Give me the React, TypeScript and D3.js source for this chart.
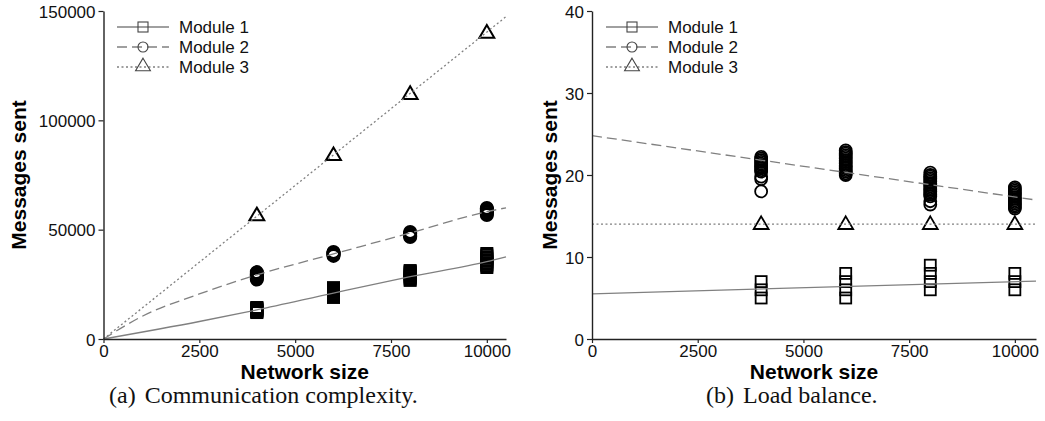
import React, { useEffect, useRef } from "react";
import * as d3 from "d3";

// network sizes where the runs were measured
const sizes = [4000, 6000, 8000, 10000];

// (a) communication complexity: every run, per network size
const commModule1 = [
  [12100, 12400, 12700, 13000, 13300, 13600, 13900, 14200, 14400],
  [19000, 19600, 20200, 20800, 21400, 22000, 22600, 23100, 23500],
  [26800, 27400, 28000, 28600, 29200, 29800, 30400, 30900, 31300],
  [32700, 33400, 34100, 34800, 35500, 36200, 36900, 37600, 38400, 39100]
];
const commModule2 = [
  [27200, 27700, 28200, 28700, 29200, 29700, 30200, 30600],
  [38000, 38400, 38800, 39200, 39500, 39800],
  [46600, 47100, 47600, 48100, 48500, 48900],
  [56700, 57200, 57700, 58200, 58700, 59200, 59600, 59900]
];
const commModule3 = [[56500], [84000], [112000], [140000]];

// fitted curves
const commFit1X = [0, 2500, 4000, 6000, 8000, 10000, 10500];
const commFit1Y = [0, 8000, 13300, 21000, 28500, 35400, 37600];
const commFit2X = [0, 1000, 2500, 4000, 6000, 8000, 10000, 10500];
const commFit2Y = [0, 10300, 20600, 29300, 38900, 48500, 58200, 60000];
const commFit3X = [0, 10500];
const commFit3Y = [0, 147400];

// (b) load balance: messages sent per node
const loadModule1 = [
  [5, 6, 7],
  [5, 6, 7, 8],
  [6, 7, 8, 9],
  [6, 7, 8]
];
const loadModule2 = [
  [18.0, 19.5, 19.8, 20.4, 20.6, 20.8, 21.0, 21.2, 21.4, 21.6, 21.8, 22.0, 22.2],
  [20.0, 20.2, 20.4, 20.6, 20.8, 21.0, 21.2, 21.4, 21.6, 21.8, 22.0, 22.2, 22.4, 22.6, 22.8, 23.0],
  [16.4, 16.8, 17.4, 17.6, 17.8, 18.0, 18.2, 18.4, 18.6, 18.8, 19.0, 19.2, 19.4, 19.6, 19.8, 20.0, 20.3],
  [15.9, 16.1, 16.3, 16.5, 16.7, 16.9, 17.1, 17.3, 17.5, 17.7, 17.9, 18.1, 18.3, 18.5]
];
const loadModule3 = [[14], [14], [14], [14]];

const loadFit1X = [0, 10500];
const loadFit1Y = [5.5, 7.07];
const loadFit2X = [0, 10500];
const loadFit2Y = [24.8, 16.95];
const loadFit3X = [0, 10500];
const loadFit3Y = [14, 14];

const xTicks = [0, 2500, 5000, 7500, 10000];
const commYTicks = [0, 50000, 100000, 150000];
const loadYTicks = [0, 10, 20, 30, 40];

const legendNames = ["Module 1", "Module 2", "Module 3"];

const sans = "'Liberation Sans', Arial, Helvetica, sans-serif";
const serif = "'Liberation Serif', 'Times New Roman', serif";
const lineColor = "#808080";
const dashes = [null, "10,5", "2,2.5"];

const triPath = (w) => {
  const h = w * 0.85;
  return `M0,${-h * 0.62}L${w / 2},${h * 0.38}L${-w / 2},${h * 0.38}Z`;
};

const drawMarker = (g, kind, x, y, size, stroke, sw) => {
  if (kind === 0) {
    g.append("rect")
      .attr("x", x - size / 2)
      .attr("y", y - size / 2)
      .attr("width", size)
      .attr("height", size)
      .attr("fill", "none")
      .attr("stroke", stroke)
      .attr("stroke-width", sw);
  } else if (kind === 1) {
    g.append("circle")
      .attr("cx", x)
      .attr("cy", y)
      .attr("r", size / 2)
      .attr("fill", "none")
      .attr("stroke", stroke)
      .attr("stroke-width", sw);
  } else {
    g.append("path")
      .attr("transform", `translate(${x},${y})`)
      .attr("d", triPath(size * 1.35))
      .attr("fill", "none")
      .attr("stroke", stroke)
      .attr("stroke-width", sw)
      .attr("stroke-linejoin", "miter");
  }
};

const drawPanel = (svg, opts) => {
  const { left, right, top, bottom, yMax, yTicks, runs, fits, legendX, caption, captionX, markerSw, titleX } = opts;

  let x = d3.scaleLinear().domain([0, 10500]).range([left, right]);
  let y = d3.scaleLinear().domain([0, yMax]).range([bottom, top]);

  const g = svg.append("g");

  // markers
  runs.forEach((series, k) => {
    series.forEach((vals, i) => {
      vals.forEach(v => {
        drawMarker(g, k, x(sizes[i]), y(v), k === 1 ? 12 : 11, "#000", markerSw);
      });
    });
  });

  // fitted lines on top of the markers
  const line = d3
    .line()
    .curve(d3.curveMonotoneX)
    .x(d => x(d[0]))
    .y(d => y(d[1]));

  fits.forEach((f, k) => {
    const pts = f[0].map((v, i) => [v, f[1][i]]);
    g.append("path")
      .attr("d", line(pts))
      .attr("fill", "none")
      .attr("stroke", lineColor)
      .attr("stroke-width", 1.3)
      .attr("stroke-dasharray", dashes[k]);
  });

  // axes
  const fmt = d3.format("d");
  const xAxis = d3.axisBottom(x).tickValues(xTicks).tickFormat(fmt).tickSize(4).tickSizeOuter(0).tickPadding(2);
  const yAxis = d3.axisLeft(y).tickValues(yTicks).tickFormat(fmt).tickSize(5).tickSizeOuter(0).tickPadding(3);

  const gx = g.append("g").attr("transform", `translate(0,${bottom})`).call(xAxis);
  const gy = g.append("g").attr("transform", `translate(${left},0)`).call(yAxis);
  [gx, gy].forEach(a => {
    a.select(".domain").attr("stroke", "#222").attr("stroke-width", 1.4);
    a.selectAll(".tick line").attr("stroke", "#222").attr("stroke-width", 1.2);
    a.selectAll("text").attr("font-family", sans).attr("font-size", 17).attr("fill", "#111");
  });
  gy.selectAll("text").attr("dy", "0.36em");

  g.append("text")
    .attr("x", (left + right) / 2)
    .attr("y", 379)
    .attr("text-anchor", "middle")
    .attr("font-family", sans)
    .attr("font-weight", "bold")
    .attr("font-size", 21)
    .text("Network size");

  g.append("text")
    .attr("transform", `translate(${titleX},${(top + bottom) / 2}) rotate(-90)`)
    .attr("text-anchor", "middle")
    .attr("font-family", sans)
    .attr("font-weight", "bold")
    .attr("font-size", 21)
    .text("Messages sent");

  // legend
  legendNames.forEach((name, k) => {
    const ly = 27 + k * 20;
    g.append("line")
      .attr("x1", legendX)
      .attr("x2", legendX + 52)
      .attr("y1", ly)
      .attr("y2", ly)
      .attr("stroke", lineColor)
      .attr("stroke-width", 1.3)
      .attr("stroke-dasharray", dashes[k]);
    drawMarker(g, k, legendX + 26, ly + (k === 2 ? -1 : 0), k === 2 ? 11 : 10, "#444", 1.1);
    g.append("text")
      .attr("x", legendX + 62)
      .attr("y", ly + 6)
      .attr("font-family", sans)
      .attr("font-size", 17)
      .attr("fill", "#111")
      .text(name);
  });

  // caption
  const cap = g.append("text")
    .attr("x", captionX)
    .attr("y", 403)
    .attr("font-family", serif)
    .attr("font-size", 24)
    .attr("fill", "#111");
  cap.append("tspan").text(caption[0]);
  cap.append("tspan").attr("dx", 9).text(caption[1]);
};

const App = () => {
  let ref = useRef(null);

  useEffect(() => {
    const svg = d3.select(ref.current);
    svg.selectAll("*").remove();

    drawPanel(svg, {
      left: 103.5,
      right: 506,
      top: 11,
      bottom: 339,
      yMax: 150000,
      yTicks: commYTicks,
      runs: [commModule1, commModule2, commModule3],
      fits: [[commFit1X, commFit1Y], [commFit2X, commFit2Y], [commFit3X, commFit3Y]],
      legendX: 117,
      caption: ["(a)", "Communication complexity."],
      captionX: 109,
      markerSw: 2,
      titleX: 25.5
    });

    drawPanel(svg, {
      left: 592,
      right: 1036,
      top: 11,
      bottom: 339,
      yMax: 40,
      yTicks: loadYTicks,
      runs: [loadModule1, loadModule2, loadModule3],
      fits: [[loadFit1X, loadFit1Y], [loadFit2X, loadFit2Y], [loadFit3X, loadFit3Y]],
      legendX: 606,
      caption: ["(b)", "Load balance."],
      captionX: 706,
      markerSw: 1.8,
      titleX: 557
    });
  }, []);

  return (
    <svg
      ref={ref}
      width={1045}
      height={421}
      style={{ position: "absolute", left: 0, top: 0, background: "#fff" }}
    />
  );
};

export default App;
